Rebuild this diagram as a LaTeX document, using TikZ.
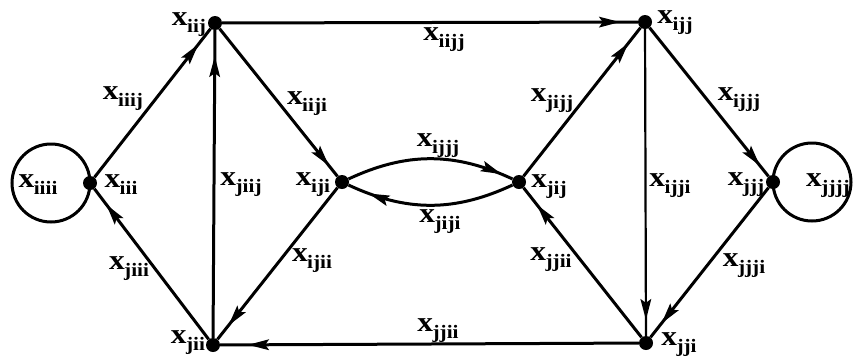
\documentclass[tikz,border=0pt]{standalone}
\usepackage{fontspec}
\setmainfont[FakeStretch=1.12]{Liberation Serif}
\usetikzlibrary{arrows.meta,decorations.markings}
\newcommand\xl[1]{{\fontsize{28}{28}\selectfont\bfseries x\kern-0.5pt\raisebox{-7pt}{\fontsize{19}{19}\selectfont #1}}}
\begin{document}
\begin{tikzpicture}[x=1pt,y=1pt,
  dot/.style={circle,fill=black,inner sep=0pt,minimum size=14pt},
  lab/.style={inner sep=0pt},
  edge/.style={line width=3pt,draw=black},
  thinedge/.style={line width=2.2pt,draw=black},
  arr/.style={postaction={decorate},decoration={markings,mark=at position -#1 with {\fill[black] (0pt,0pt) -- (-21pt,5.5pt) -- (-17pt,0pt) -- (-21pt,-5.5pt) -- cycle;}}}]
\useasboundingbox (0,0) rectangle (854,-357);
% nodes
\node[dot] (iii) at (90,-183) {};
\node[dot] (iij) at (215,-23) {};
\node[dot] (jii) at (213,-345) {};
\node[dot] (iji) at (342,-182) {};
\node[dot] (jij) at (519,-182) {};
\node[dot] (ijj) at (645,-22) {};
\node[dot] (jji) at (646,-343) {};
\node[dot] (jjj) at (773,-182) {};
% loops
\draw[edge] (iii.center) arc[start angle=0, end angle=360, radius=39pt];
\draw[edge] (jjj.center) arc[start angle=180, end angle=-180, radius=39pt];
% edges
\draw[edge,arr=20pt] (iii) -- (iij);
\draw[edge,arr=26pt] (jii) -- (iij);
\draw[edge,arr=14pt] (iij) -- (iji);
\draw[edge,arr=18pt] (iji) -- (jii);
\draw[edge,arr=20pt] (jii) -- (iii);
\draw[edge,arr=18pt] (iij) -- (ijj);
\draw[edge,arr=12pt] (iji) to[bend left=25] (jij);
\draw[edge,arr=22pt] (jij) to[bend left=25] (iji);
\draw[edge,arr=20pt] (jij) -- (ijj);
\draw[edge,arr=14pt] (ijj) -- (jjj);
\draw[thinedge,arr=16pt] (ijj) -- (jji);
\draw[edge,arr=18pt] (jjj) -- (jji);
\draw[edge,arr=28pt] (jji) -- (jii);
\draw[edge,arr=22pt] (jji) -- (jij);
% labels
\node[lab] (l1) at (38,-185) {\xl{iiii}};
\node[lab] (l2) at (121,-185) {\xl{iii}};
\node[lab] (l3) at (189,-25) {\xl{iij}};
\node[lab] (l4) at (123,-99) {\xl{iiij}};
\node[lab] (l5) at (307,-104) {\xl{iiji}};
\node[lab] (l6) at (241,-185) {\xl{jiij}};
\node[lab] (l7) at (313,-185) {\xl{iji}};
\node[lab] (l8) at (438,-146) {\xl{ijjj}};
\node[lab] (l9) at (444,-40) {\xl{iijj}};
\node[lab] (l10) at (552,-101) {\xl{jijj}};
\node[lab] (l11) at (675,-23) {\xl{ijj}};
\node[lab] (l12) at (739,-100) {\xl{ijjj}};
\node[lab] (l13) at (549,-187) {\xl{jij}};
\node[lab] (l14) at (440,-222) {\xl{jiji}};
\node[lab] (l15) at (670,-186) {\xl{ijji}};
\node[lab] (l16) at (746,-185) {\xl{jjj}};
\node[lab] (l17) at (828,-186) {\xl{jjjj}};
\node[lab] (l18) at (551,-260) {\xl{jjii}};
\node[lab] (l19) at (438,-331) {\xl{jjii}};
\node[lab] (l20) at (679,-345) {\xl{jji}};
\node[lab] (l21) at (744,-266) {\xl{jjji}};
\node[lab] (l22) at (129,-269) {\xl{jiii}};
\node[lab] (l23) at (312,-261) {\xl{ijii}};
\node[lab] (l24) at (188,-343) {\xl{jii}};
\end{tikzpicture}
\end{document}
